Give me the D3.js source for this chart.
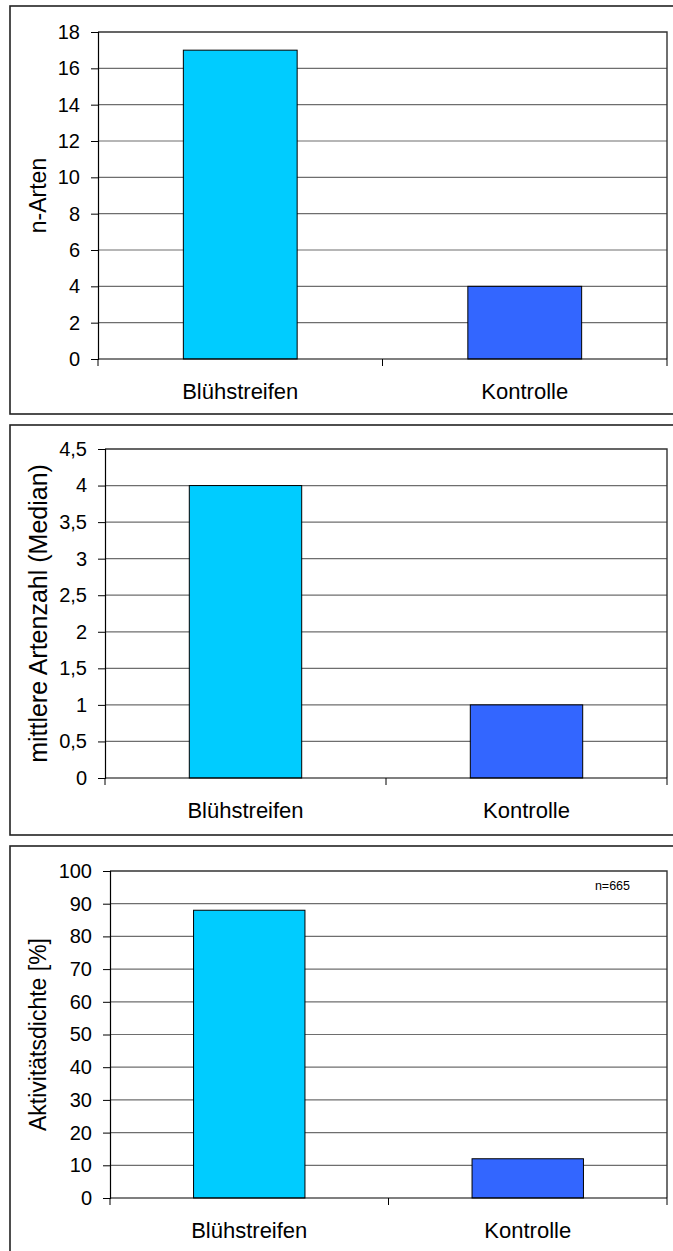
<!DOCTYPE html>
<html>
<head>
<meta charset="utf-8">
<script src="https://cdn.jsdelivr.net/npm/d3@7"></script>
<style>
  html, body { margin: 0; padding: 0; background: #fff; }
  svg { display: block; font-family: "Liberation Sans", Arial, sans-serif; }
</style>
</head>
<body>
<script>
// Categories shared by all three panels
const categories = ["Blühstreifen", "Kontrolle"];
const barColors = ["#00CCFF", "#3366FF"];

// Panel 1: number of species
const artenValues = [17, 4];
const artenTicks = [0, 2, 4, 6, 8, 10, 12, 14, 16, 18];

// Panel 2: median species count
const medianValues = [4, 1];
const medianTicks = [0, 0.5, 1, 1.5, 2, 2.5, 3, 3.5, 4, 4.5];

// Panel 3: activity density in percent
const aktivValues = [88, 12];
const aktivTicks = [0, 10, 20, 30, 40, 50, 60, 70, 80, 90, 100];
const aktivNote = "n=665";

const W = 673, H = 1251;
const svg = d3.select("body").append("svg")
  .attr("width", W).attr("height", H);

const deFormat = v => String(v).replace(".", ",");

function panel(cfg) {
  const g = svg.append("g");

  // outer frame of the panel
  g.append("rect")
    .attr("x", 10).attr("y", cfg.frameTop)
    .attr("width", 720).attr("height", cfg.frameBottom - cfg.frameTop)
    .attr("fill", "#fff").attr("stroke", "#222").attr("stroke-width", 1.6);

  const y = d3.scaleLinear()
    .domain([0, d3.max(cfg.ticks)])
    .range([cfg.bottom, cfg.top]);
  const x = d3.scaleBand()
    .domain(categories)
    .range([cfg.left, cfg.right])
    .padding(0);

  // horizontal gridlines
  g.append("g").selectAll("line")
    .data(cfg.ticks.filter(t => t > 0 && t < d3.max(cfg.ticks)))
    .join("line")
    .attr("x1", cfg.left).attr("x2", cfg.right)
    .attr("y1", d => y(d)).attr("y2", d => y(d))
    .attr("stroke", "#6e6e6e").attr("stroke-width", 1.2);

  // plot-area border (top and right)
  g.append("path")
    .attr("d", `M${cfg.left},${cfg.top}H${cfg.right}V${cfg.bottom}`)
    .attr("fill", "none").attr("stroke", "#333").attr("stroke-width", 1.4);

  // bars
  const bw = x.bandwidth();
  g.append("g").selectAll("rect")
    .data(cfg.values)
    .join("rect")
    .attr("x", (d, i) => x(categories[i]) + bw * 0.3)
    .attr("width", bw * 0.4)
    .attr("y", d => y(d))
    .attr("height", d => y(0) - y(d))
    .attr("fill", (d, i) => barColors[i])
    .attr("stroke", "#000").attr("stroke-width", 1);

  // value axis
  const yAxis = d3.axisLeft(y)
    .tickValues(cfg.ticks)
    .tickFormat(deFormat)
    .tickSize(7).tickPadding(11);
  const ya = g.append("g")
    .attr("transform", `translate(${cfg.left},0)`)
    .call(yAxis);
  ya.select(".domain").attr("stroke", "#000").attr("stroke-width", 1.2);
  ya.selectAll(".tick line").attr("stroke", "#000");
  ya.selectAll(".tick text")
    .attr("font-size", 20).attr("fill", "#000")
    .attr("font-family", "Liberation Sans, Arial, sans-serif");

  // category axis with ticks on band boundaries
  const boundaries = categories.map(c => x(c)).concat([cfg.right]);
  g.append("line")
    .attr("x1", cfg.left).attr("x2", cfg.right)
    .attr("y1", cfg.bottom).attr("y2", cfg.bottom)
    .attr("stroke", "#000").attr("stroke-width", 1.2);
  g.append("g").selectAll("line")
    .data(boundaries)
    .join("line")
    .attr("x1", d => d).attr("x2", d => d)
    .attr("y1", cfg.bottom).attr("y2", cfg.bottom + 7)
    .attr("stroke", "#000");
  g.append("g").selectAll("text")
    .data(categories)
    .join("text")
    .attr("x", d => x(d) + bw / 2)
    .attr("y", cfg.bottom + 40)
    .attr("text-anchor", "middle")
    .attr("font-size", 22)
    .text(d => d);

  // rotated axis title
  g.append("text")
    .attr("transform", `translate(${cfg.titleX},${(cfg.top + cfg.bottom) / 2}) rotate(-90)`)
    .attr("text-anchor", "middle")
    .attr("font-size", cfg.titleSize)
    .text(cfg.title);

  if (cfg.note) {
    g.append("text")
      .attr("x", cfg.right - 37).attr("y", y(cfg.noteAt))
      .attr("text-anchor", "end")
      .attr("font-size", 12.5)
      .text(cfg.note);
  }
}

panel({
  frameTop: 6, frameBottom: 414,
  left: 98, right: 667, top: 32, bottom: 359,
  ticks: artenTicks, values: artenValues,
  title: "n-Arten", titleX: 46, titleSize: 23
});

panel({
  frameTop: 425, frameBottom: 835,
  left: 105, right: 667, top: 449, bottom: 778,
  ticks: medianTicks, values: medianValues,
  title: "mittlere Artenzahl (Median)", titleX: 47, titleSize: 25
});

panel({
  frameTop: 846, frameBottom: 1258,
  left: 110, right: 667, top: 871, bottom: 1198,
  ticks: aktivTicks, values: aktivValues,
  title: "Aktivitätsdichte [%]", titleX: 46, titleSize: 23,
  note: aktivNote, noteAt: 94.2
});
</script>
</body>
</html>
